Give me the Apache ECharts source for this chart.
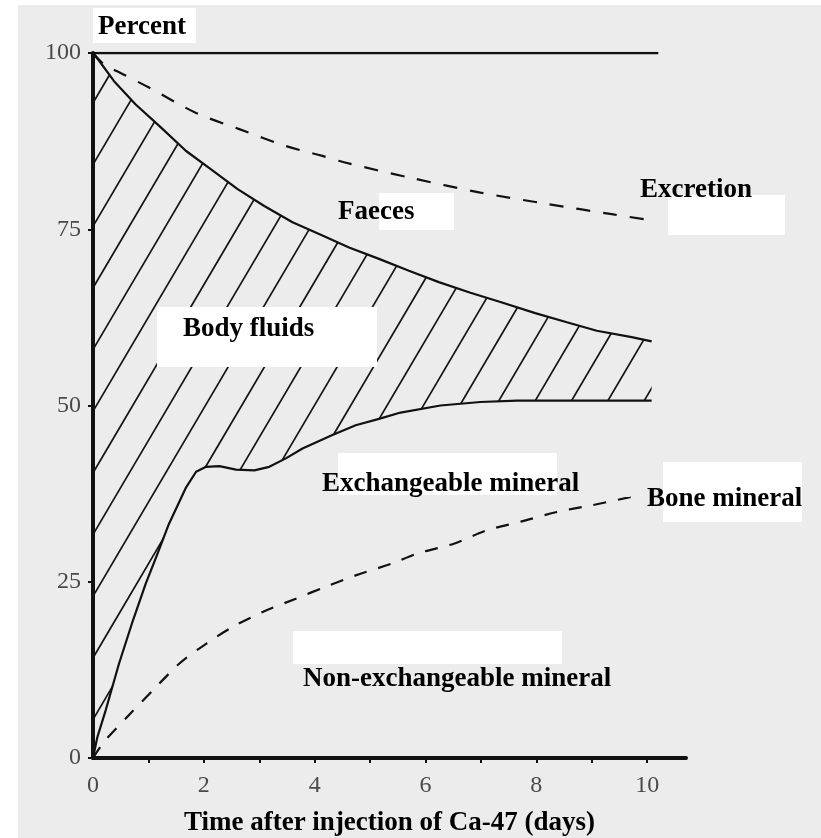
<!DOCTYPE html>
<html>
<head>
<meta charset="utf-8">
<script src="https://cdn.jsdelivr.net/npm/echarts@6/dist/echarts.min.js"></script>
<style>
  html, body { margin: 0; padding: 0; background: #ffffff; }
  #chart { width: 821px; height: 838px; }
</style>
</head>
<body>
<div id="chart"></div>
<script>
// Fate of an injected Ca-47 dose, percent of dose vs days after injection.
const xLabelValues = [0, 2, 4, 6, 8, 10];
const xTickValues = [1, 2, 3, 4, 5, 6, 7, 8, 9, 10];
const yTickValues = [0, 25, 50, 75, 100];

// Whole dose (upper bound).
const totalDose = [[0, 100], [10.2, 100]];

// Dose remaining after urinary excretion (dashed).
const afterExcretion = [
  [0, 100], [0.2, 98.4], [0.54, 97.0], [1.01, 95.1], [1.86, 91.5], [2.64, 89.2],
  [3.48, 86.8], [4.14, 85.4], [4.53, 84.5], [5.73, 82.3], [6.99, 80.2],
  [8.19, 78.6], [9.39, 77.1], [10.05, 76.3]
];

// Dose remaining after faecal loss (top of body-fluid band).
const afterFaeces = [
  [0, 100], [0.11, 98.9], [0.38, 96.0], [0.77, 92.7], [1.19, 89.7], [1.68, 86.1],
  [2.13, 83.5], [2.61, 80.7], [3.09, 78.3], [3.6, 76.0], [4.14, 74.1], [4.62, 72.4],
  [5.16, 70.8], [5.7, 69.1], [6.24, 67.5], [6.81, 66.0], [7.38, 64.6], [7.98, 63.1],
  [8.55, 61.8], [9.09, 60.6], [9.72, 59.7], [10.08, 59.1]
];

// Total mineral (exchangeable + non-exchangeable), bottom of body-fluid band.
const totalMineral = [
  [0, 0], [0.08, 3.0], [0.23, 6.8], [0.47, 13.4], [0.72, 19.5], [0.95, 24.7],
  [1.14, 28.5], [1.37, 33.2], [1.68, 38.4], [1.86, 40.6], [2.04, 41.3], [2.28, 41.4],
  [2.58, 40.9], [2.91, 40.8], [3.18, 41.3], [3.48, 42.5], [3.78, 43.9], [4.32, 45.8],
  [4.74, 47.2], [5.16, 48.1], [5.55, 49.0], [6.27, 50.0], [6.99, 50.5], [7.65, 50.7],
  [10.08, 50.7]
];

// Non-exchangeable bone mineral (dashed).
const boneMineral = [
  [0, 0], [0.2, 2.3], [0.65, 6.1], [1.08, 9.6], [1.56, 13.4], [2.04, 16.2],
  [2.52, 18.6], [3.06, 20.7], [3.66, 22.6], [4.2, 24.3], [4.74, 25.9], [5.4, 27.6],
  [5.85, 29.0], [6.51, 30.4], [7.11, 32.3], [7.71, 33.5], [8.37, 34.9], [8.97, 35.8],
  [9.69, 37.0], [9.84, 37.3]
];

// Region captions: text anchor (left, middle) and the white panel behind it.
const captions = [
  { text: 'Body fluids', x: 183, y: 329, panel: [157, 307, 220, 60] },
  { text: 'Faeces', x: 338, y: 212, panel: [379, 193, 75, 37] },
  { text: 'Excretion', x: 640, y: 190, panel: [668, 195, 117, 40] },
  { text: 'Exchangeable mineral', x: 322, y: 484, panel: [338, 453, 219, 42] },
  { text: 'Bone mineral', x: 647, y: 499, panel: [663, 462, 139, 60] },
  { text: 'Non-exchangeable mineral', x: 303, y: 679, panel: [293, 631, 269, 33] }
];

const SERIF = '"Liberation Serif", "Times New Roman", serif';
const INK = '#111111';

// Diagonal hatching tile: three lines per tile so the pitch stays fractional.
function makeHatchTile() {
  const W = 109, H = 185, pitch = H / 3, slope = H / W, phase = 14.1;
  const c = document.createElement('canvas');
  c.width = W; c.height = H;
  const g = c.getContext('2d');
  g.strokeStyle = '#141414';
  g.lineWidth = 1.7;
  for (let k = -1; k <= 7; k++) {
    const y0 = phase + k * pitch;
    g.beginPath();
    g.moveTo(-5, y0 + slope * 5);
    g.lineTo(W + 5, y0 - slope * (W + 5));
    g.stroke();
  }
  return c;
}
const hatchFill = { image: makeHatchTile(), repeat: 'repeat' };

const graphics = [
  { type: 'rect', z: -100, silent: true, shape: { x: 18, y: 5, width: 803, height: 833 }, style: { fill: '#ececec' } }
];
captions.forEach(function (c) {
  graphics.push({
    type: 'rect', z: 100, silent: true,
    shape: { x: c.panel[0], y: c.panel[1], width: c.panel[2], height: c.panel[3] },
    style: { fill: '#ffffff' }
  });
});
captions.forEach(function (c) {
  graphics.push({
    type: 'text', z: 101, silent: true, x: c.x, y: c.y,
    style: { text: c.text, font: 'bold 27px ' + SERIF, fill: '#000', align: 'left', verticalAlign: 'middle' }
  });
});

const chart = echarts.init(document.getElementById('chart'), null, { renderer: 'canvas' });

chart.setOption({
  backgroundColor: '#ffffff',
  animation: false,
  grid: { left: 93, right: 135, top: 53, bottom: 80, containLabel: false, outerBoundsMode: 'none' },
  graphic: graphics,
  xAxis: {
    type: 'value', min: 0, max: 10.7, interval: 1,
    name: 'Time after injection of Ca-47 (days)',
    nameLocation: 'middle', nameGap: 52,
    nameTextStyle: { fontFamily: SERIF, fontWeight: 'bold', fontSize: 27, color: '#000' },
    axisLine: { show: true, onZero: false, lineStyle: { color: INK, width: 4 } },
    axisTick: { show: true, length: 5, customValues: xTickValues, lineStyle: { color: INK, width: 2 } },
    axisLabel: { customValues: xLabelValues, margin: 16, fontFamily: SERIF, fontSize: 24, color: '#4a4a4a' },
    splitLine: { show: false }
  },
  yAxis: {
    type: 'value', min: 0, max: 100, interval: 25,
    name: 'Percent', nameLocation: 'end', nameGap: 10,
    nameTextStyle: {
      fontFamily: SERIF, fontWeight: 'bold', fontSize: 27, color: '#000',
      align: 'left', verticalAlign: 'bottom', backgroundColor: '#ffffff', padding: [6, 10, 2, 5]
    },
    axisLine: { show: true, onZero: false, lineStyle: { color: INK, width: 4 } },
    axisTick: { show: true, length: 5, customValues: yTickValues, lineStyle: { color: INK, width: 2 } },
    axisLabel: { margin: 12, fontFamily: SERIF, fontSize: 24, color: '#4a4a4a', padding: [5, 0, 0, 0] },
    splitLine: { show: false }
  },
  series: [
    {
      name: 'Body fluids', type: 'custom', z: 1, silent: true,
      data: [[0, 0]],
      renderItem: function (params, api) {
        const pts = afterFaeces.map(function (p) { return api.coord(p); })
          .concat(totalMineral.slice().reverse().map(function (p) { return api.coord(p); }));
        return { type: 'polygon', shape: { points: pts }, style: { fill: hatchFill, stroke: null } };
      }
    },
    {
      name: 'Total', type: 'line', data: totalDose, symbol: 'none', z: 3,
      lineStyle: { color: INK, width: 2.5 }
    },
    {
      name: 'Excretion', type: 'line', data: afterExcretion, symbol: 'none', smooth: 0.3, z: 3,
      lineStyle: { color: INK, width: 2.2, type: [14, 13] }
    },
    {
      name: 'Faeces', type: 'line', data: afterFaeces, symbol: 'none', z: 3,
      lineStyle: { color: INK, width: 2.2 }
    },
    {
      name: 'Exchangeable mineral', type: 'line', data: totalMineral, symbol: 'none', z: 3,
      lineStyle: { color: INK, width: 2.2 }
    },
    {
      name: 'Bone mineral', type: 'line', data: boneMineral, symbol: 'none', smooth: 0.3, z: 3,
      lineStyle: { color: INK, width: 2.2, type: [13, 12] }
    }
  ]
});
</script>
</body>
</html>
